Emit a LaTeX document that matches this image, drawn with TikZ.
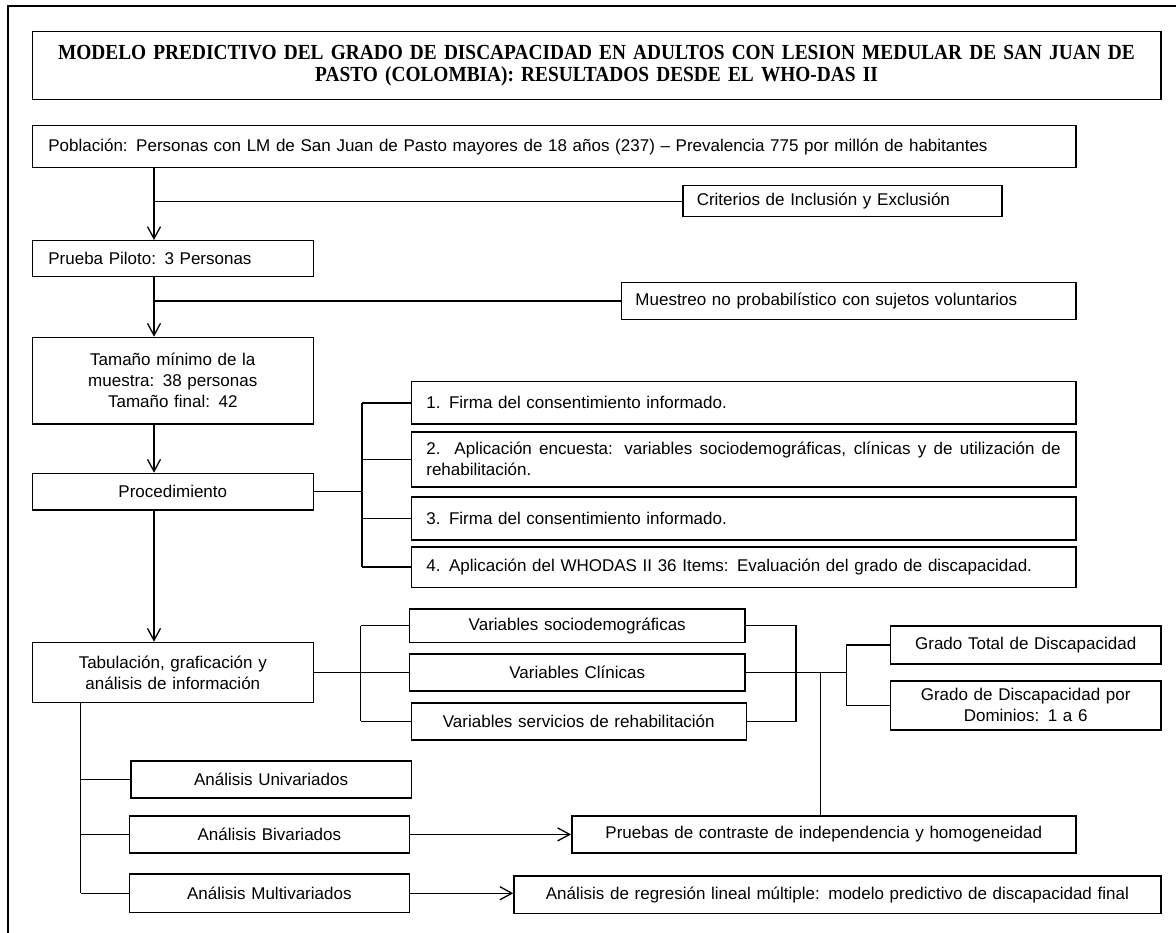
\documentclass[tikz,border=0pt]{standalone}
\usepackage{fontspec}
\setmainfont{Liberation Sans}
\newfontfamily\titlefont[FakeStretch=0.9]{Liberation Serif}
\usetikzlibrary{arrows.meta}
\newcommand\BXc[6]{%
  \pgfmathsetmacro\bw{#4-#2}\pgfmathsetmacro\bh{#5-#3}%
  \node[bx, text width=\bw pt, minimum height=\bh pt, align=center] (#1) at (#2,#3) {#6};}
\newcommand\BXl[7]{%
  \pgfmathsetmacro\bw{#4-#2-2*#6}\pgfmathsetmacro\bh{#5-#3}%
  \node[bx, inner xsep=#6pt, text width=\bw pt, minimum height=\bh pt, align=left] (#1) at (#2,#3) {#7};}
\begin{document}
\begin{tikzpicture}[x=1pt,y=-1pt,
  bx/.style={draw=black, line width=1.5pt, inner sep=0pt, anchor=north west, font=\fontsize{17}{21}\selectfont},
  ln/.style={line width=1.3pt},
  arr/.style={ln, -{Straight Barb[length=12pt,width=13pt]}}]
\useasboundingbox (0,0) rectangle (1176,933);
\fill[white] (0,0) rectangle (1176,933);
\draw[line width=2pt] (7.5,945) -- (7.5,6.5) -- (1190,6.5);

% title
\pgfmathsetmacro\bw{1160-31.6}\pgfmathsetmacro\bh{99-31}
\node[bx, text width=\bw pt, minimum height=\bh pt, align=center,
  font=\titlefont\bfseries\fontsize{21.5}{22.6}\selectfont] (title) at (31.6,31)
  {MODELO PREDICTIVO DEL GRADO DE DISCAPACIDAD EN ADULTOS CON LESION MEDULAR DE SAN JUAN DE\\PASTO (COLOMBIA): RESULTADOS DESDE EL WHO-DAS II};

\BXl{pop}{31.6}{125}{1075}{167}{16}{Población: Personas con LM de San Juan de Pasto mayores de 18 años (237) – Prevalencia 775 por millón de habitantes}
\BXl{crit}{682}{185}{1001}{216}{14}{Criterios de Inclusión y Exclusión}
\BXl{prueba}{31.6}{240}{312.5}{276}{16}{Prueba Piloto: 3 Personas}
\BXl{muest}{620.7}{281.7}{1075}{319}{14}{Muestreo no probabilístico con sujetos voluntarios}
\BXc{tam}{31.6}{336.7}{312.5}{423.3}{Tamaño mínimo de la\\muestra: 38 personas\\Tamaño final: 42}
\BXc{proc}{31.6}{472.7}{312.5}{509.3}{Procedimiento}
\BXl{f1}{410.6}{381}{1075}{423.3}{15}{1. Firma del consentimiento informado.}
\pgfmathsetmacro\bw{1075-410.6-30}\pgfmathsetmacro\bh{486-431}
\node[bx, inner xsep=15pt, text width=\bw pt, minimum height=\bh pt, align=justify] (f2) at (410.6,431)
  {2. Aplicación encuesta: variables sociodemográficas, clínicas y de utilización de\linebreak rehabilitación.};
\BXl{f3}{410.6}{496}{1075}{539.3}{15}{3. Firma del consentimiento informado.}
\BXl{f4}{410.6}{546}{1075}{586.7}{15}{4. Aplicación del WHODAS II 36 Items: Evaluación del grado de discapacidad.}
\BXc{tab}{31.6}{641.7}{312.5}{701.7}{Tabulación, graficación y\\análisis de información}
\BXc{vs}{408.7}{608.3}{744.3}{641.7}{Variables sociodemográficas}
\BXc{vc}{408.7}{653.3}{744.3}{690}{Variables Clínicas}
\BXc{vr}{410.6}{702.3}{745.5}{739}{Variables servicios de rehabilitación}
\BXc{gt}{889.9}{625}{1160}{663.3}{Grado Total de Discapacidad}
\BXc{gd}{889.9}{680}{1160}{729.3}{Grado de Discapacidad por\\Dominios: 1 a 6}
\BXc{univ}{130}{760}{410.6}{797.3}{Análisis Univariados}
\BXc{biv}{128.5}{815}{408.7}{852.3}{Análisis Bivariados}
\BXc{pru}{571}{815}{1075}{852.3}{Pruebas de contraste de independencia y homogeneidad}
\BXc{mult}{128.5}{873.3}{408.7}{911.7}{Análisis Multivariados}
\BXc{reg}{513.3}{875}{1160}{912.7}{Análisis de regresión lineal múltiple: modelo predictivo de discapacidad final}

\coordinate (m) at (154,0);
\coordinate (pb) at (362,0);
\coordinate (tb) at (360.5,0);
\coordinate (rb) at (796,0);
\coordinate (jx) at (846.2,0);
\coordinate (px) at (820.3,0);
\coordinate (lv) at (80.6,0);

\draw[arr] (pop.south -| m) -- (prueba.north -| m);
\draw[ln] (m |- crit.west) -- (crit.west);
\draw[arr] (prueba.south -| m) -- (tam.north -| m);
\draw[ln] (m |- muest.west) -- (muest.west);
\draw[arr] (tam.south -| m) -- (proc.north -| m);
\draw[arr] (proc.south -| m) -- (tab.north -| m);
\draw[ln] (proc.east) -- (proc.east -| pb);
\draw[ln] (pb |- f1.west) -- (pb |- f4.west);
\foreach \n in {f1,f2,f3,f4} \draw[ln] (pb |- \n.west) -- (\n.west);
\draw[ln] (tab.east) -- (tab.east -| tb);
\draw[ln] (tb |- vs.west) -- (tb |- vr.west);
\foreach \n in {vs,vc,vr} \draw[ln] (tb |- \n.west) -- (\n.west);
\draw[ln] (vs.east) -- (vs.east -| rb) -- (vr.east -| rb) -- (vr.east);
\draw[ln] (vc.east) -- (vc.east -| jx);
\draw[ln] (jx |- gt.west) -- (jx |- gd.west);
\foreach \n in {gt,gd} \draw[ln] (jx |- \n.west) -- (\n.west);
\draw[ln] (vc.east -| px) -- (pru.north -| px);
\draw[ln] (tab.south -| lv) -- (lv |- mult.west);
\foreach \n in {univ,biv,mult} \draw[ln] (lv |- \n.west) -- (\n.west);
\draw[arr] (biv.east) -- (pru.west);
\draw[arr] (mult.east) -- (mult.east -| reg.west);
\end{tikzpicture}
\end{document}
